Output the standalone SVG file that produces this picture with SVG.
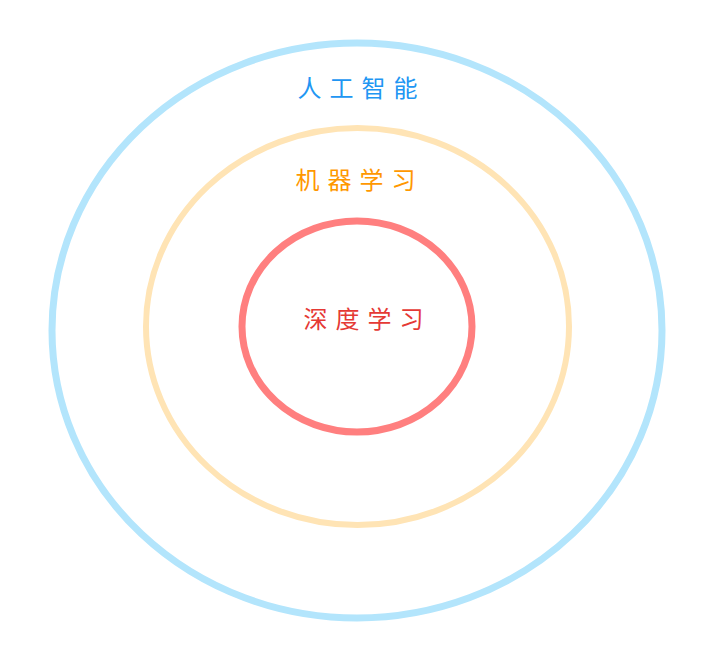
<svg xmlns="http://www.w3.org/2000/svg" width="712" height="656" viewBox="0 0 712 656">
<style>
.ring{fill:none}
.lbl{font-family:"Noto Sans CJK SC","Noto Sans CJK JP",sans-serif;font-size:24px;font-weight:400;letter-spacing:8px;text-anchor:middle}
</style>
<rect width="712" height="656" fill="#ffffff"/>
<g id="ai">
<ellipse class="ring" cx="357" cy="330.5" rx="305" ry="287.5" stroke="#B3E5FC" stroke-width="7"/>
<text class="lbl" x="361.5" y="97" fill="#2196F3">人工智能</text>
</g>
<g id="ml">
<ellipse class="ring" cx="357.5" cy="326.5" rx="211.5" ry="198.5" stroke="#FFE4B5" stroke-width="6"/>
<text class="lbl" x="359.5" y="189" fill="#FF9800">机器学习</text>
</g>
<g id="dl">
<ellipse class="ring" cx="357" cy="326.5" rx="115" ry="105.5" stroke="#FF7F7F" stroke-width="7"/>
<text class="lbl" x="367.5" y="328" fill="#E53935">深度学习</text>
</g>
<g id="connectors"/>
</svg>
